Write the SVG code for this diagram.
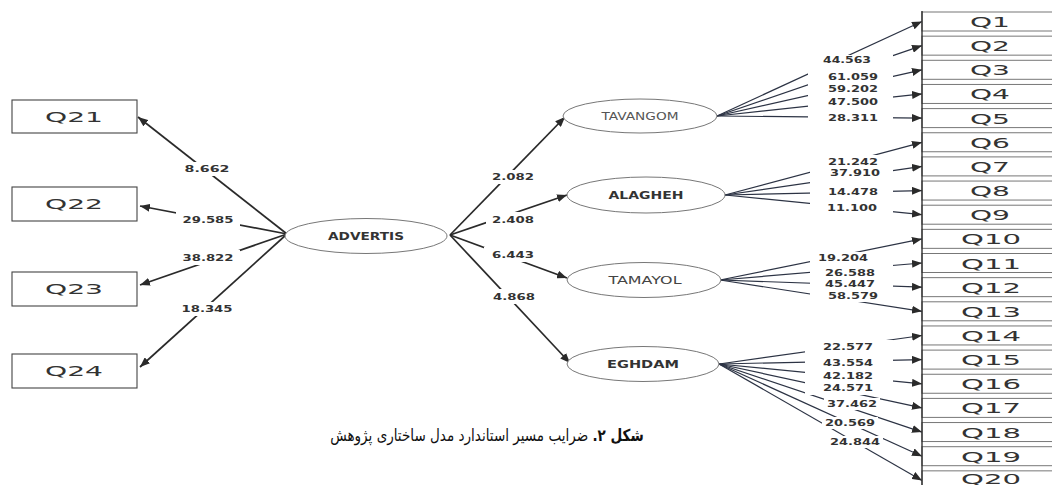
<svg xmlns="http://www.w3.org/2000/svg" width="1052" height="485" viewBox="0 0 1052 485">
<style>
.box{fill:#fff;stroke:#444;stroke-width:1.1}
.qbox{fill:#fff;stroke:#777;stroke-width:1}
.qedge{stroke:#222;stroke-width:1.3}
.ell{fill:#fff;stroke:#777;stroke-width:1}
.qt{font-family:"DejaVu Sans",sans-serif;font-size:14.5px;fill:#333;text-anchor:middle}
.nt{font-family:"DejaVu Sans",sans-serif;font-size:10px;font-weight:bold;fill:#333;text-anchor:middle}
.lb{font-family:"DejaVu Sans",sans-serif;font-size:9px;font-weight:bold;fill:#333;text-anchor:middle}
.main{stroke:#2a2a2a;stroke-width:1.7;fill:none}
.fan{stroke:#2c3344;stroke-width:1.2;fill:none}
.cap{font-family:"DejaVu Sans","Noto Sans",sans-serif;font-size:16.5px;fill:#111}
</style>
<defs>
<marker id="ah" viewBox="0 0 10 8" refX="10" refY="4" markerWidth="10" markerHeight="8" markerUnits="userSpaceOnUse" orient="auto">
<path d="M0,0 L10,4 L0,8 z" fill="#2a2a2a"/>
</marker>
<mask id="gaps" maskUnits="userSpaceOnUse" x="0" y="0" width="1052" height="485">
<rect x="0" y="0" width="1052" height="485" fill="#fff"/>
<rect x="182" y="162" width="50" height="14" fill="#000"/>
<rect x="176" y="212" width="64" height="15" fill="#000"/>
<rect x="176" y="250" width="64" height="15" fill="#000"/>
<rect x="180" y="302" width="54" height="14" fill="#000"/>
<rect x="490" y="170" width="46" height="14" fill="#000"/>
<rect x="486" y="212" width="54" height="15" fill="#000"/>
<rect x="484" y="247" width="56" height="15" fill="#000"/>
<rect x="488" y="289" width="52" height="15" fill="#000"/>
<rect x="808" y="55" width="85" height="70" fill="#000"/>
<rect x="810" y="155" width="83" height="60" fill="#000"/>
<rect x="810" y="252" width="83" height="50" fill="#000"/>
<rect x="805" y="340" width="88" height="55" fill="#000"/>
<rect x="824" y="398" width="56" height="12" fill="#000"/>
<rect x="822" y="417" width="56" height="12" fill="#000"/>
<rect x="827" y="436" width="56" height="12" fill="#000"/>
</mask>
</defs>
<rect x="0" y="0" width="1052" height="485" fill="#fff"/>

<g id="connectors" mask="url(#gaps)">
<line class="main" x1="287" y1="234" x2="138" y2="117" marker-end="url(#ah)"/>
<line class="main" x1="287" y1="234" x2="140" y2="206" marker-end="url(#ah)"/>
<line class="main" x1="287" y1="234" x2="140" y2="285" marker-end="url(#ah)"/>
<line class="main" x1="287" y1="234" x2="140" y2="367" marker-end="url(#ah)"/>
<line class="main" x1="450" y1="235" x2="565" y2="117" marker-end="url(#ah)"/>
<line class="main" x1="450" y1="235" x2="567" y2="195" marker-end="url(#ah)"/>
<line class="main" x1="450" y1="235" x2="567" y2="278" marker-end="url(#ah)"/>
<line class="main" x1="450" y1="235" x2="570" y2="363" marker-end="url(#ah)"/>
<line class="fan" x1="717" y1="116" x2="922" y2="21.5" marker-end="url(#ah)"/>
<line class="fan" x1="717" y1="116" x2="922" y2="45.6" marker-end="url(#ah)"/>
<line class="fan" x1="717" y1="116" x2="922" y2="69.8" marker-end="url(#ah)"/>
<line class="fan" x1="717" y1="116" x2="922" y2="93.9" marker-end="url(#ah)"/>
<line class="fan" x1="717" y1="116" x2="922" y2="118.1" marker-end="url(#ah)"/>
<line class="fan" x1="725" y1="195" x2="922" y2="142.3" marker-end="url(#ah)"/>
<line class="fan" x1="725" y1="195" x2="922" y2="166.4" marker-end="url(#ah)"/>
<line class="fan" x1="725" y1="195" x2="922" y2="190.6" marker-end="url(#ah)"/>
<line class="fan" x1="725" y1="195" x2="922" y2="214.7" marker-end="url(#ah)"/>
<line class="fan" x1="720" y1="280" x2="922" y2="238.9" marker-end="url(#ah)"/>
<line class="fan" x1="720" y1="280" x2="922" y2="263.0" marker-end="url(#ah)"/>
<line class="fan" x1="720" y1="280" x2="922" y2="287.2" marker-end="url(#ah)"/>
<line class="fan" x1="720" y1="280" x2="922" y2="311.3" marker-end="url(#ah)"/>
<line class="fan" x1="719" y1="364" x2="922" y2="335.5" marker-end="url(#ah)"/>
<line class="fan" x1="719" y1="364" x2="922" y2="359.6" marker-end="url(#ah)"/>
<line class="fan" x1="719" y1="364" x2="922" y2="383.8" marker-end="url(#ah)"/>
<line class="fan" x1="719" y1="364" x2="922" y2="407.9" marker-end="url(#ah)"/>
<line class="fan" x1="719" y1="364" x2="922" y2="432.1" marker-end="url(#ah)"/>
<line class="fan" x1="719" y1="364" x2="922" y2="456.2" marker-end="url(#ah)"/>
<line class="fan" x1="719" y1="364" x2="922" y2="480.4" marker-end="url(#ah)"/>
</g>

<g id="edge-labels">
<text class="lb" x="207" y="172" textLength="45" lengthAdjust="spacingAndGlyphs">8.662</text>
<text class="lb" x="208" y="223" textLength="51" lengthAdjust="spacingAndGlyphs">29.585</text>
<text class="lb" x="208" y="261" textLength="51" lengthAdjust="spacingAndGlyphs">38.822</text>
<text class="lb" x="207" y="312" textLength="51" lengthAdjust="spacingAndGlyphs">18.345</text>
<text class="lb" x="513" y="180" textLength="42" lengthAdjust="spacingAndGlyphs">2.082</text>
<text class="lb" x="513" y="223" textLength="42" lengthAdjust="spacingAndGlyphs">2.408</text>
<text class="lb" x="513" y="258" textLength="42" lengthAdjust="spacingAndGlyphs">6.443</text>
<text class="lb" x="514" y="300" textLength="42" lengthAdjust="spacingAndGlyphs">4.868</text>
<text class="lb" x="847" y="63" textLength="48" lengthAdjust="spacingAndGlyphs">44.563</text>
<text class="lb" x="853" y="80" textLength="50" lengthAdjust="spacingAndGlyphs">61.059</text>
<text class="lb" x="853" y="92" textLength="50" lengthAdjust="spacingAndGlyphs">59.202</text>
<text class="lb" x="853" y="105" textLength="50" lengthAdjust="spacingAndGlyphs">47.500</text>
<text class="lb" x="853" y="121" textLength="50" lengthAdjust="spacingAndGlyphs">28.311</text>
<text class="lb" x="853" y="165" textLength="50" lengthAdjust="spacingAndGlyphs">21.242</text>
<text class="lb" x="855" y="176" textLength="50" lengthAdjust="spacingAndGlyphs">37.910</text>
<text class="lb" x="853" y="195" textLength="50" lengthAdjust="spacingAndGlyphs">14.478</text>
<text class="lb" x="852" y="211" textLength="50" lengthAdjust="spacingAndGlyphs">11.100</text>
<text class="lb" x="843" y="261" textLength="50" lengthAdjust="spacingAndGlyphs">19.204</text>
<text class="lb" x="850" y="276" textLength="50" lengthAdjust="spacingAndGlyphs">26.588</text>
<text class="lb" x="850" y="287" textLength="50" lengthAdjust="spacingAndGlyphs">45.447</text>
<text class="lb" x="853" y="299" textLength="50" lengthAdjust="spacingAndGlyphs">58.579</text>
<text class="lb" x="848" y="350" textLength="50" lengthAdjust="spacingAndGlyphs">22.577</text>
<text class="lb" x="848" y="366" textLength="50" lengthAdjust="spacingAndGlyphs">43.554</text>
<text class="lb" x="848" y="379" textLength="50" lengthAdjust="spacingAndGlyphs">42.182</text>
<text class="lb" x="848" y="391" textLength="50" lengthAdjust="spacingAndGlyphs">24.571</text>
<text class="lb" x="852" y="407" textLength="50" lengthAdjust="spacingAndGlyphs">37.462</text>
<text class="lb" x="850" y="426" textLength="50" lengthAdjust="spacingAndGlyphs">20.569</text>
<text class="lb" x="855" y="445" textLength="50" lengthAdjust="spacingAndGlyphs">24.844</text>
</g>

<g id="Q21"><rect class="box" x="12" y="100" width="125" height="33"/><text class="qt" x="74" y="122" textLength="58" lengthAdjust="spacingAndGlyphs">Q21</text></g>
<g id="Q22"><rect class="box" x="12" y="187" width="125" height="34"/><text class="qt" x="74" y="209" textLength="58" lengthAdjust="spacingAndGlyphs">Q22</text></g>
<g id="Q23"><rect class="box" x="12" y="272" width="125" height="34"/><text class="qt" x="74" y="294" textLength="58" lengthAdjust="spacingAndGlyphs">Q23</text></g>
<g id="Q24"><rect class="box" x="12" y="354" width="125" height="34"/><text class="qt" x="74" y="376" textLength="58" lengthAdjust="spacingAndGlyphs">Q24</text></g>

<g id="ADVERTIS"><ellipse class="ell" cx="366" cy="236" rx="81" ry="17.5"/><text class="nt" x="366" y="240" textLength="76" lengthAdjust="spacingAndGlyphs">ADVERTIS</text></g>
<g id="TAVANGOM"><ellipse class="ell" cx="640" cy="116" rx="77" ry="17"/><text class="nt" x="640" y="120" textLength="77" lengthAdjust="spacingAndGlyphs" style="font-weight:normal;fill:#555">TAVANGOM</text></g>
<g id="ALAGHEH"><ellipse class="ell" cx="646" cy="195" rx="79" ry="18"/><text class="nt" x="646" y="199" textLength="75" lengthAdjust="spacingAndGlyphs">ALAGHEH</text></g>
<g id="TAMAYOL"><ellipse class="ell" cx="644" cy="280" rx="77" ry="17.5"/><text class="nt" x="645" y="284" textLength="73" lengthAdjust="spacingAndGlyphs" style="font-weight:normal;fill:#444">TAMAYOL</text></g>
<g id="EGHDAM"><ellipse class="ell" cx="643" cy="364" rx="76" ry="17.5"/><text class="nt" x="643" y="368" textLength="72" lengthAdjust="spacingAndGlyphs">EGHDAM</text></g>

<g id="Q1"><rect class="qbox" x="922" y="12" width="140" height="19"/><text class="qt" x="990" y="27" textLength="40" lengthAdjust="spacingAndGlyphs">Q1</text></g>
<g id="Q2"><rect class="qbox" x="922" y="36.15" width="140" height="19"/><text class="qt" x="990" y="51.1" textLength="40" lengthAdjust="spacingAndGlyphs">Q2</text></g>
<g id="Q3"><rect class="qbox" x="922" y="60.3" width="140" height="19"/><text class="qt" x="990" y="75.3" textLength="40" lengthAdjust="spacingAndGlyphs">Q3</text></g>
<g id="Q4"><rect class="qbox" x="922" y="84.45" width="140" height="19"/><text class="qt" x="990" y="99.4" textLength="40" lengthAdjust="spacingAndGlyphs">Q4</text></g>
<g id="Q5"><rect class="qbox" x="922" y="108.6" width="140" height="19"/><text class="qt" x="990" y="123.6" textLength="40" lengthAdjust="spacingAndGlyphs">Q5</text></g>
<g id="Q6"><rect class="qbox" x="922" y="132.75" width="140" height="19"/><text class="qt" x="990" y="147.8" textLength="40" lengthAdjust="spacingAndGlyphs">Q6</text></g>
<g id="Q7"><rect class="qbox" x="922" y="156.9" width="140" height="19"/><text class="qt" x="990" y="171.9" textLength="40" lengthAdjust="spacingAndGlyphs">Q7</text></g>
<g id="Q8"><rect class="qbox" x="922" y="181.05" width="140" height="19"/><text class="qt" x="990" y="196.1" textLength="40" lengthAdjust="spacingAndGlyphs">Q8</text></g>
<g id="Q9"><rect class="qbox" x="922" y="205.2" width="140" height="19"/><text class="qt" x="990" y="220.2" textLength="40" lengthAdjust="spacingAndGlyphs">Q9</text></g>
<g id="Q10"><rect class="qbox" x="922" y="229.35" width="140" height="19"/><text class="qt" x="991" y="244.4" textLength="60" lengthAdjust="spacingAndGlyphs">Q10</text></g>
<g id="Q11"><rect class="qbox" x="922" y="253.5" width="140" height="19"/><text class="qt" x="991" y="268.5" textLength="60" lengthAdjust="spacingAndGlyphs">Q11</text></g>
<g id="Q12"><rect class="qbox" x="922" y="277.65" width="140" height="19"/><text class="qt" x="991" y="292.7" textLength="60" lengthAdjust="spacingAndGlyphs">Q12</text></g>
<g id="Q13"><rect class="qbox" x="922" y="301.8" width="140" height="19"/><text class="qt" x="991" y="316.8" textLength="60" lengthAdjust="spacingAndGlyphs">Q13</text></g>
<g id="Q14"><rect class="qbox" x="922" y="325.95" width="140" height="19"/><text class="qt" x="991" y="341" textLength="60" lengthAdjust="spacingAndGlyphs">Q14</text></g>
<g id="Q15"><rect class="qbox" x="922" y="350.1" width="140" height="19"/><text class="qt" x="991" y="365.1" textLength="60" lengthAdjust="spacingAndGlyphs">Q15</text></g>
<g id="Q16"><rect class="qbox" x="922" y="374.25" width="140" height="19"/><text class="qt" x="991" y="389.3" textLength="60" lengthAdjust="spacingAndGlyphs">Q16</text></g>
<g id="Q17"><rect class="qbox" x="922" y="398.4" width="140" height="19"/><text class="qt" x="991" y="413.4" textLength="60" lengthAdjust="spacingAndGlyphs">Q17</text></g>
<g id="Q18"><rect class="qbox" x="922" y="422.55" width="140" height="19"/><text class="qt" x="991" y="437.6" textLength="60" lengthAdjust="spacingAndGlyphs">Q18</text></g>
<g id="Q19"><rect class="qbox" x="922" y="446.7" width="140" height="19"/><text class="qt" x="991" y="461.7" textLength="60" lengthAdjust="spacingAndGlyphs">Q19</text></g>
<g id="Q20"><rect class="qbox" x="922" y="470.85" width="140" height="19"/><text class="qt" x="991" y="484" textLength="60" lengthAdjust="spacingAndGlyphs">Q20</text></g>
<line class="qedge" x1="922" y1="11" x2="922" y2="485"/>

<text class="cap" transform="translate(487,441) scale(0.82,1)" x="0" y="0" text-anchor="middle" direction="rtl"><tspan font-weight="bold">شکل ۲.</tspan> ضرایب مسیر استاندارد مدل ساختاری پژوهش</text>
</svg>
